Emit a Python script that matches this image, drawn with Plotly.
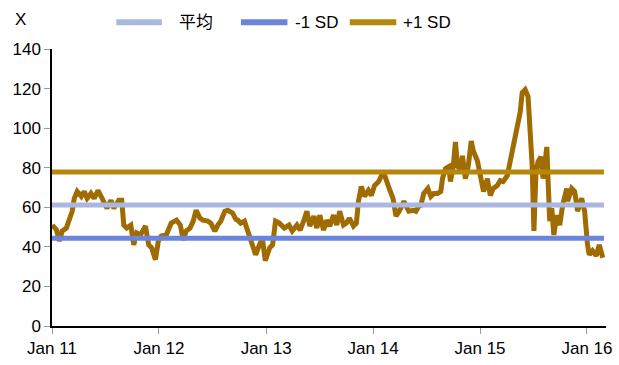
import plotly.graph_objects as go
import pandas as pd

# Valuation multiple (X), 2011 - early 2016
dates = [
    "2011-01-02", "2011-01-16", "2011-01-26", "2011-02-05", "2011-02-19", "2011-03-01",
    "2011-03-11", "2011-03-18", "2011-03-28", "2011-04-11", "2011-04-21", "2011-05-01",
    "2011-05-14", "2011-05-25", "2011-06-07", "2011-06-21", "2011-07-08", "2011-07-21",
    "2011-07-31", "2011-08-17", "2011-08-27", "2011-09-03", "2011-09-13", "2011-09-27",
    "2011-10-07", "2011-10-17", "2011-10-30", "2011-11-16", "2011-11-27", "2011-12-07",
    "2011-12-20", "2011-12-30",
    "2012-01-09", "2012-01-26", "2012-02-12", "2012-03-01", "2012-03-14", "2012-03-24",
    "2012-04-03", "2012-04-16", "2012-04-27", "2012-05-07", "2012-05-20", "2012-05-30",
    "2012-06-16", "2012-06-26", "2012-07-10", "2012-07-20", "2012-07-30", "2012-08-13",
    "2012-08-23", "2012-09-09", "2012-09-19", "2012-09-26", "2012-10-06", "2012-10-19",
    "2012-11-05", "2012-11-15", "2012-11-26", "2012-12-09", "2012-12-19", "2012-12-29",
    "2013-01-13", "2013-01-23", "2013-02-02", "2013-02-15", "2013-03-04", "2013-03-20",
    "2013-03-31", "2013-04-16", "2013-04-27", "2013-05-10", "2013-05-20", "2013-05-30",
    "2013-06-13", "2013-06-23", "2013-07-03", "2013-07-16", "2013-07-27", "2013-08-06",
    "2013-08-19", "2013-08-30", "2013-09-09", "2013-09-22", "2013-10-02", "2013-10-12",
    "2013-10-26", "2013-11-05", "2013-11-12", "2013-11-22", "2013-12-02", "2013-12-16",
    "2013-12-26",
    "2014-01-06", "2014-01-20", "2014-02-05", "2014-02-15", "2014-02-25", "2014-03-10",
    "2014-03-20", "2014-03-31", "2014-04-16", "2014-05-03", "2014-05-20", "2014-05-27",
    "2014-06-06", "2014-06-13", "2014-06-23", "2014-07-07", "2014-07-17", "2014-07-27",
    "2014-08-09", "2014-08-20", "2014-08-26", "2014-09-05", "2014-09-16", "2014-09-22",
    "2014-10-02", "2014-10-09", "2014-10-16", "2014-10-26", "2014-11-02", "2014-11-12",
    "2014-11-22", "2014-12-02", "2014-12-09", "2014-12-23",
    "2015-01-03", "2015-01-13", "2015-01-26", "2015-02-05", "2015-02-15", "2015-03-01",
    "2015-03-11", "2015-03-21", "2015-04-04", "2015-04-14", "2015-04-21", "2015-05-01",
    "2015-05-08", "2015-05-18", "2015-05-25", "2015-06-04", "2015-06-14", "2015-06-21",
    "2015-06-28", "2015-07-04", "2015-07-11", "2015-07-18", "2015-07-28", "2015-08-04",
    "2015-08-17", "2015-08-21", "2015-08-27", "2015-09-03", "2015-09-10", "2015-09-20",
    "2015-09-30", "2015-10-10", "2015-10-24", "2015-10-27", "2015-11-10", "2015-11-20",
    "2015-11-30", "2015-12-14", "2015-12-24",
    "2016-01-03", "2016-01-09", "2016-01-20", "2016-02-02", "2016-02-12", "2016-02-24",
]
values = [
    51, 48.7, 43, 48, 49.5, 54.5,
    58, 64.5, 68, 65.5, 68, 64.5,
    67, 64.5, 68.5, 64.5, 59.5, 63.5,
    59.5, 63.5, 63.5, 51, 49.5, 51,
    41, 47, 46, 50.5, 41, 39.5,
    33.5, 43,
    45.5, 46, 52, 53.5, 51, 43.5,
    48, 49.5, 53, 58.5, 54.5, 53.5,
    53, 52, 48, 51, 53, 58,
    58.5, 57, 54, 53.5, 52, 53,
    44.5, 41, 36, 41, 44.5, 33,
    39.5, 41, 53, 52, 49.5, 51,
    48, 51, 48.5, 53.5, 58, 50.5,
    55.5, 49.5, 56, 48.5, 53.5, 50.5,
    56, 51, 58, 51, 52, 54.5,
    50.5, 52, 63, 70.5, 65.5, 68.5,
    66,
    71, 73, 78, 73, 69.5, 64.5,
    55.5, 58, 63, 58, 58.5, 58,
    60.5, 61, 67, 69.5, 65.5, 67,
    67, 68, 74.5, 79.5, 80.5, 73,
    81, 93, 81, 78.5, 86, 74.5,
    81, 93.5, 88.5, 83.5,
    74.5, 68, 74.5, 66, 69.5, 71,
    73.5, 73, 76, 83.5, 88.5, 94.5,
    103, 108, 118, 119.5, 116, 99.5,
    81, 48, 78, 83, 85.5, 74.5,
    90.5, 74.5, 53, 59.5, 46, 56,
    51, 61, 69.5, 63, 69.5, 68,
    58, 64.5, 58,
    41, 36, 38, 35.5, 41, 34.5,
]

# Long-run mean and one-standard-deviation bands
band_names = ["平均", "-1 SD", "+1 SD"]
band_values = [61.2, 44.4, 77.8]
band_colors = ["#AAB7E1", "#6B84DC", "#B5870A"]
series_color = "#A06B00"

y_ticks = [0, 20, 40, 60, 80, 100, 120, 140]
x_ticks = ["2011-01-01", "2012-01-01", "2013-01-01", "2014-01-01", "2015-01-01", "2016-01-01"]

FONT = "Liberation Sans, Arial, Noto Sans CJK SC, sans-serif"

fig = go.Figure()

fig.add_trace(go.Scatter(
    x=pd.to_datetime(dates), y=values, mode="lines",
    line=dict(color=series_color, width=5), showlegend=False,
))

band_x = [pd.Timestamp("2011-01-01"), pd.Timestamp("2016-02-28")]
for name, val, col in zip(band_names, band_values, band_colors):
    fig.add_trace(go.Scatter(
        x=band_x, y=[val, val], mode="lines", name=name,
        line=dict(color=col, width=5), showlegend=False,
    ))

# Legend row along the top
W, H = 619, 365
ml, mr, mt, mb = 52, 7, 49, 36
pw, ph = W - ml - mr, H - mt - mb


def px_x(p):
    return (p - ml) / pw


def px_y(p):
    return (H - mb - p) / ph


legend_items = [(117, 163, 178), (243, 290, 296), (353, 400, 405)]
for (x0, x1, tx), name, col in zip(legend_items, band_names, band_colors):
    fig.add_shape(type="line", xref="paper", yref="paper",
                  x0=px_x(x0), x1=px_x(x1), y0=px_y(22), y1=px_y(22),
                  line=dict(color=col, width=6))
    fig.add_annotation(xref="paper", yref="paper", x=px_x(tx), y=px_y(22),
                       text=name, showarrow=False, xanchor="left", yanchor="middle",
                       font=dict(family=FONT, size=17, color="#000000"))

fig.add_annotation(xref="paper", yref="paper", x=px_x(20), y=px_y(19),
                   text="X", showarrow=False, xanchor="center", yanchor="middle",
                   font=dict(family=FONT, size=17, color="#000000"))

fig.update_layout(
    width=W, height=H,
    margin=dict(l=ml, r=mr, t=mt, b=mb, pad=0),
    paper_bgcolor="white", plot_bgcolor="white",
    font=dict(family=FONT, size=17, color="#000000"),
    showlegend=False,
)
fig.update_xaxes(
    type="date", range=["2011-01-01", "2016-03-06"],
    tickvals=pd.to_datetime(x_ticks), tickformat="%b %y",
    showline=True, linecolor="#000000", linewidth=1.5,
    ticks="outside", ticklen=6, tickcolor="#999999", tickwidth=1,
    showgrid=False, zeroline=False,
)
fig.update_yaxes(
    range=[0, 140], tickvals=y_ticks,
    showline=True, linecolor="#000000", linewidth=1.5,
    ticks="outside", ticklen=6, tickcolor="#999999", tickwidth=1,
    showgrid=False, zeroline=False,
)

fig.write_html("out.html")
